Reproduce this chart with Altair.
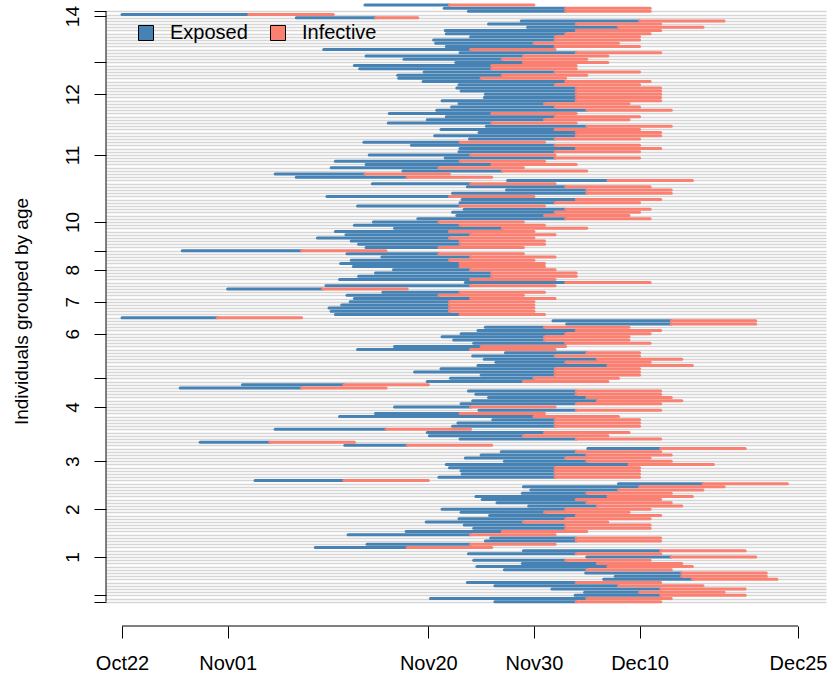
import altair as alt
import pandas as pd

# ---- data (days since Oct 22), rows listed top -> bottom ----
start_day = [
    23.0, 30.5, 32.8, 0.0, 16.5, 37.8, 34.7, 38.4, 30.6, 30.7,
    33.0, 29.5, 29.7, 30.7, 19.1, 32.0, 23.1, 26.7, 31.6, 22.0,
    22.5, 28.6, 26.1, 26.2, 28.5, 31.9, 31.7, 32.1, 34.4, 34.3,
    30.3, 31.9, 31.2, 29.8, 25.3, 30.7, 28.9, 25.2, 34.5, 30.2,
    33.8, 29.6, 32.9, 22.9, 27.4, 32.0, 31.9, 23.4, 30.6, 20.2,
    23.1, 19.8, 26.6, 14.5, 16.5, 36.5, 23.7, 32.7, 36.4, 31.3,
    19.4, 32.2, 32.0, 22.3, 32.4, 31.3, 31.7, 28.0, 23.8, 22.0,
    25.8, 20.2, 21.2, 18.5, 21.7, 22.4, 23.1, 5.7, 21.3, 24.6,
    21.7, 20.7, 21.9, 25.7, 24.0, 22.4, 20.6, 32.5, 19.3, 10.0,
    24.7, 21.3, 22.0, 21.6, 20.8, 19.6, 19.8, 20.2, 0.0, 40.8,
    42.1, 34.4, 33.7, 32.1, 30.3, 31.4, 33.3, 25.8, 22.3, 36.3,
    33.2, 34.3, 35.4, 33.7, 30.2, 27.7, 34.0, 31.1, 28.9, 11.4,
    5.5, 32.8, 33.5, 34.7, 33.2, 32.1, 25.8, 33.8, 24.0, 20.6,
    35.1, 31.8, 31.3, 14.5, 28.9, 29.1, 32.0, 7.4, 21.1, 44.1,
    35.9, 34.0, 32.5, 36.2, 30.7, 31.0, 32.1, 32.2, 30.0, 12.6,
    47.0, 38.0, 38.7, 37.9, 33.5, 34.1, 35.5, 38.5, 30.3, 32.1,
    34.8, 31.9, 28.8, 32.4, 33.3, 26.9, 21.4, 34.9, 34.4, 23.2,
    18.3, 38.0, 32.8, 44.0, 33.3, 37.9, 33.6, 36.2, 43.9, 46.7,
    45.6, 32.7, 35.3, 40.7, 43.8, 42.9, 29.2, 35.3,
]
onset_day = [
    31, 42, 42, 12, 24, 49, 43, 47, 43, 42,
    41, 41, 39, 41, 33, 43, 38, 36, 38, 35,
    35, 41, 36, 34, 42, 41, 43, 43, 43, 43,
    43, 40, 41, 44, 35, 41, 40, 35, 44, 41,
    43, 43, 41, 32, 41, 43, 41, 33, 41, 32,
    35, 30, 36, 23, 27, 46, 33, 42, 44, 44,
    31, 43, 41, 32, 42, 41, 40, 42, 30, 32,
    36, 31, 33, 31, 32, 32, 30, 17, 30, 33,
    31, 32, 32, 33, 35, 35, 33, 42, 33, 19,
    32, 30, 33, 31, 31, 31, 31, 32, 9, 52,
    52, 40, 43, 42, 40, 40, 42, 34, 33, 44,
    41, 45, 42, 46, 41, 41, 41, 39, 38, 21,
    17, 43, 43, 44, 45, 43, 33, 43, 32, 39,
    41, 41, 41, 25, 40, 38, 43, 14, 27, 51,
    43, 44, 42, 44, 48, 41, 41, 41, 41, 21,
    55, 49, 47, 44, 46, 43, 44, 45, 42, 40,
    43, 42, 38, 42, 42, 36, 33, 43, 43, 33,
    27, 51, 43, 52, 42, 45, 46, 44, 53, 53,
    54, 43, 47, 51, 49, 51, 44, 43,
]
end_day = [
    39, 50, 50, 20, 28, 57, 51, 55, 51, 50,
    49, 49, 47, 49, 41, 51, 46, 44, 46, 43,
    43, 49, 44, 42, 50, 49, 51, 51, 51, 51,
    51, 48, 49, 52, 43, 49, 48, 43, 52, 49,
    51, 51, 49, 40, 49, 51, 49, 41, 49, 40,
    43, 38, 44, 31, 35, 54, 41, 50, 52, 52,
    39, 51, 49, 40, 50, 49, 48, 50, 38, 40,
    44, 39, 41, 39, 40, 40, 38, 25, 38, 41,
    39, 40, 40, 41, 43, 43, 41, 50, 41, 27,
    40, 38, 41, 39, 39, 39, 39, 40, 17, 60,
    60, 48, 51, 50, 48, 48, 50, 42, 41, 49,
    49, 53, 50, 54, 49, 49, 49, 47, 46, 29,
    25, 51, 51, 52, 53, 51, 41, 51, 40, 47,
    49, 49, 49, 33, 48, 46, 51, 22, 35, 59,
    51, 52, 50, 52, 56, 49, 49, 49, 49, 29,
    63, 57, 55, 52, 54, 51, 52, 53, 50, 48,
    51, 50, 46, 50, 50, 44, 41, 51, 51, 41,
    35, 59, 51, 60, 50, 53, 54, 52, 61, 61,
    62, 51, 55, 59, 57, 59, 52, 51,
]

x_tick_values = [0, 10, 29, 39, 49, 64]
x_tick_labels = ["Oct22", "Nov01", "Nov20", "Nov30", "Dec10", "Dec25"]
y_tick_values = [1, 3, 15, 30, 45, 62, 71, 85, 95, 105, 111, 120, 141, 160, 170, 184.5, 186]
y_tick_labels = ["", "", "1", "2", "3", "4", "", "6", "7", "8", "", "10", "11", "12", "", "14", ""]
grid_rows = list(range(1, 187))
states = ["Exposed", "Infective"]
state_colors = ["steelblue", "salmon"]
border_colors = ["black", "black"]

N = len(start_day)

# ---- tables ----
recs = []
for i in range(N):
    recs.append({"row": N - i, "state": "Exposed", "x0": start_day[i], "x1": onset_day[i]})
for i in range(N):
    recs.append({"row": N - i, "state": "Infective", "x0": onset_day[i], "x1": end_day[i]})
seg_df = pd.DataFrame(recs)
legend_df = pd.DataFrame({"state": states, "row": [1, 1]})
xline_df = pd.DataFrame({"a": [x_tick_values[0]], "b": [x_tick_values[-1]]})
yline_df = pd.DataFrame({"a": [y_tick_values[0]], "b": [y_tick_values[-1]]})


def label_expr(vals, labs):
    s = "''"
    for v, l in reversed(list(zip(vals, labs))):
        s = f"datum.value == {v} ? '{l}' : {s}"
    return s


FONT = "Liberation Sans"
xscale = alt.Scale(domain=[-1.515, 66.65], nice=False, zero=False)
yscale = alt.Scale(domain=[0.28, 186.1], nice=False, zero=False)
cscale = alt.Scale(domain=states, range=state_colors)

x_axis = alt.Axis(
    values=x_tick_values, labelExpr=label_expr(x_tick_values, x_tick_labels),
    domain=False, grid=False, offset=22, tickSize=12, tickColor="black", tickWidth=1,
    labelFont=FONT, labelFontSize=20, labelColor="black", labelPadding=15,
    labelBaseline="top", labelAlign="center", labelFlush=False, labelOverlap=False,
    title=None,
)
y_axis = alt.Axis(
    orient="left", values=y_tick_values, labelExpr=label_expr(y_tick_values, y_tick_labels),
    domain=False, grid=False, tickSize=12, tickColor="black", tickWidth=1,
    labelFont=FONT, labelFontSize=19, labelColor="black", labelAngle=270,
    labelAlign="center", labelBaseline="alphabetic", labelPadding=16,
    labelFlush=False, labelOverlap=False,
    title="Individuals grouped by age", titleFont=FONT, titleFontSize=19,
    titleFontWeight="normal", titleColor="black", titleAngle=270,
    titleX=-79, titleY=300, titleAlign="center", titleBaseline="alphabetic",
)
grid_axis = alt.Axis(
    orient="right", values=grid_rows, grid=True, gridColor="#d6d6d6", gridWidth=1.6,
    labels=False, ticks=False, domain=False, title=None,
)


def make_legend():
    return alt.Legend(
        orient="none", legendX=30, legendY=12, direction="horizontal", title=None,
        symbolType="square", symbolSize=225, symbolStrokeWidth=1,
        symbolOpacity=1, labelFont=FONT, labelFontSize=20, labelColor="black",
        labelOffset=14, columnPadding=20, padding=0,
    )


grid_layer = alt.Chart(legend_df).transform_filter("false").mark_square(
    strokeWidth=1, filled=True
).encode(
    y=alt.Y("row:Q", scale=yscale, axis=grid_axis),
    fill=alt.Fill("state:N", scale=cscale, legend=make_legend()),
    stroke=alt.Stroke("state:N", scale=alt.Scale(domain=states, range=border_colors),
                      legend=make_legend()),
)

seg_layer = alt.Chart(seg_df).mark_rule(strokeWidth=3, strokeCap="round").encode(
    x=alt.X("x0:Q", scale=xscale, axis=x_axis),
    x2="x1:Q",
    y=alt.Y("row:Q", scale=yscale, axis=y_axis),
    color=alt.Color("state:N", scale=cscale, legend=None),
)

xline_layer = alt.Chart(xline_df).mark_rule(color="black", strokeWidth=1).encode(
    x=alt.X("a:Q", scale=xscale, axis=x_axis),
    x2="b:Q",
    y=alt.value(615),
)

yline_layer = alt.Chart(yline_df).mark_rule(color="black", strokeWidth=1).encode(
    y=alt.Y("a:Q", scale=yscale, axis=None),
    y2="b:Q",
    x=alt.value(0),
)

chart = alt.layer(grid_layer, seg_layer, xline_layer, yline_layer).resolve_axis(
    y="independent"
).properties(
    width=720, height=593,
    autosize=alt.AutoSizeParams(type="none"),
    padding={"left": 106, "top": 11, "right": 5, "bottom": 73},
    background="white",
).configure_view(stroke=None)

chart.save("out.html", embed_options={"renderer": "svg", "actions": False})
